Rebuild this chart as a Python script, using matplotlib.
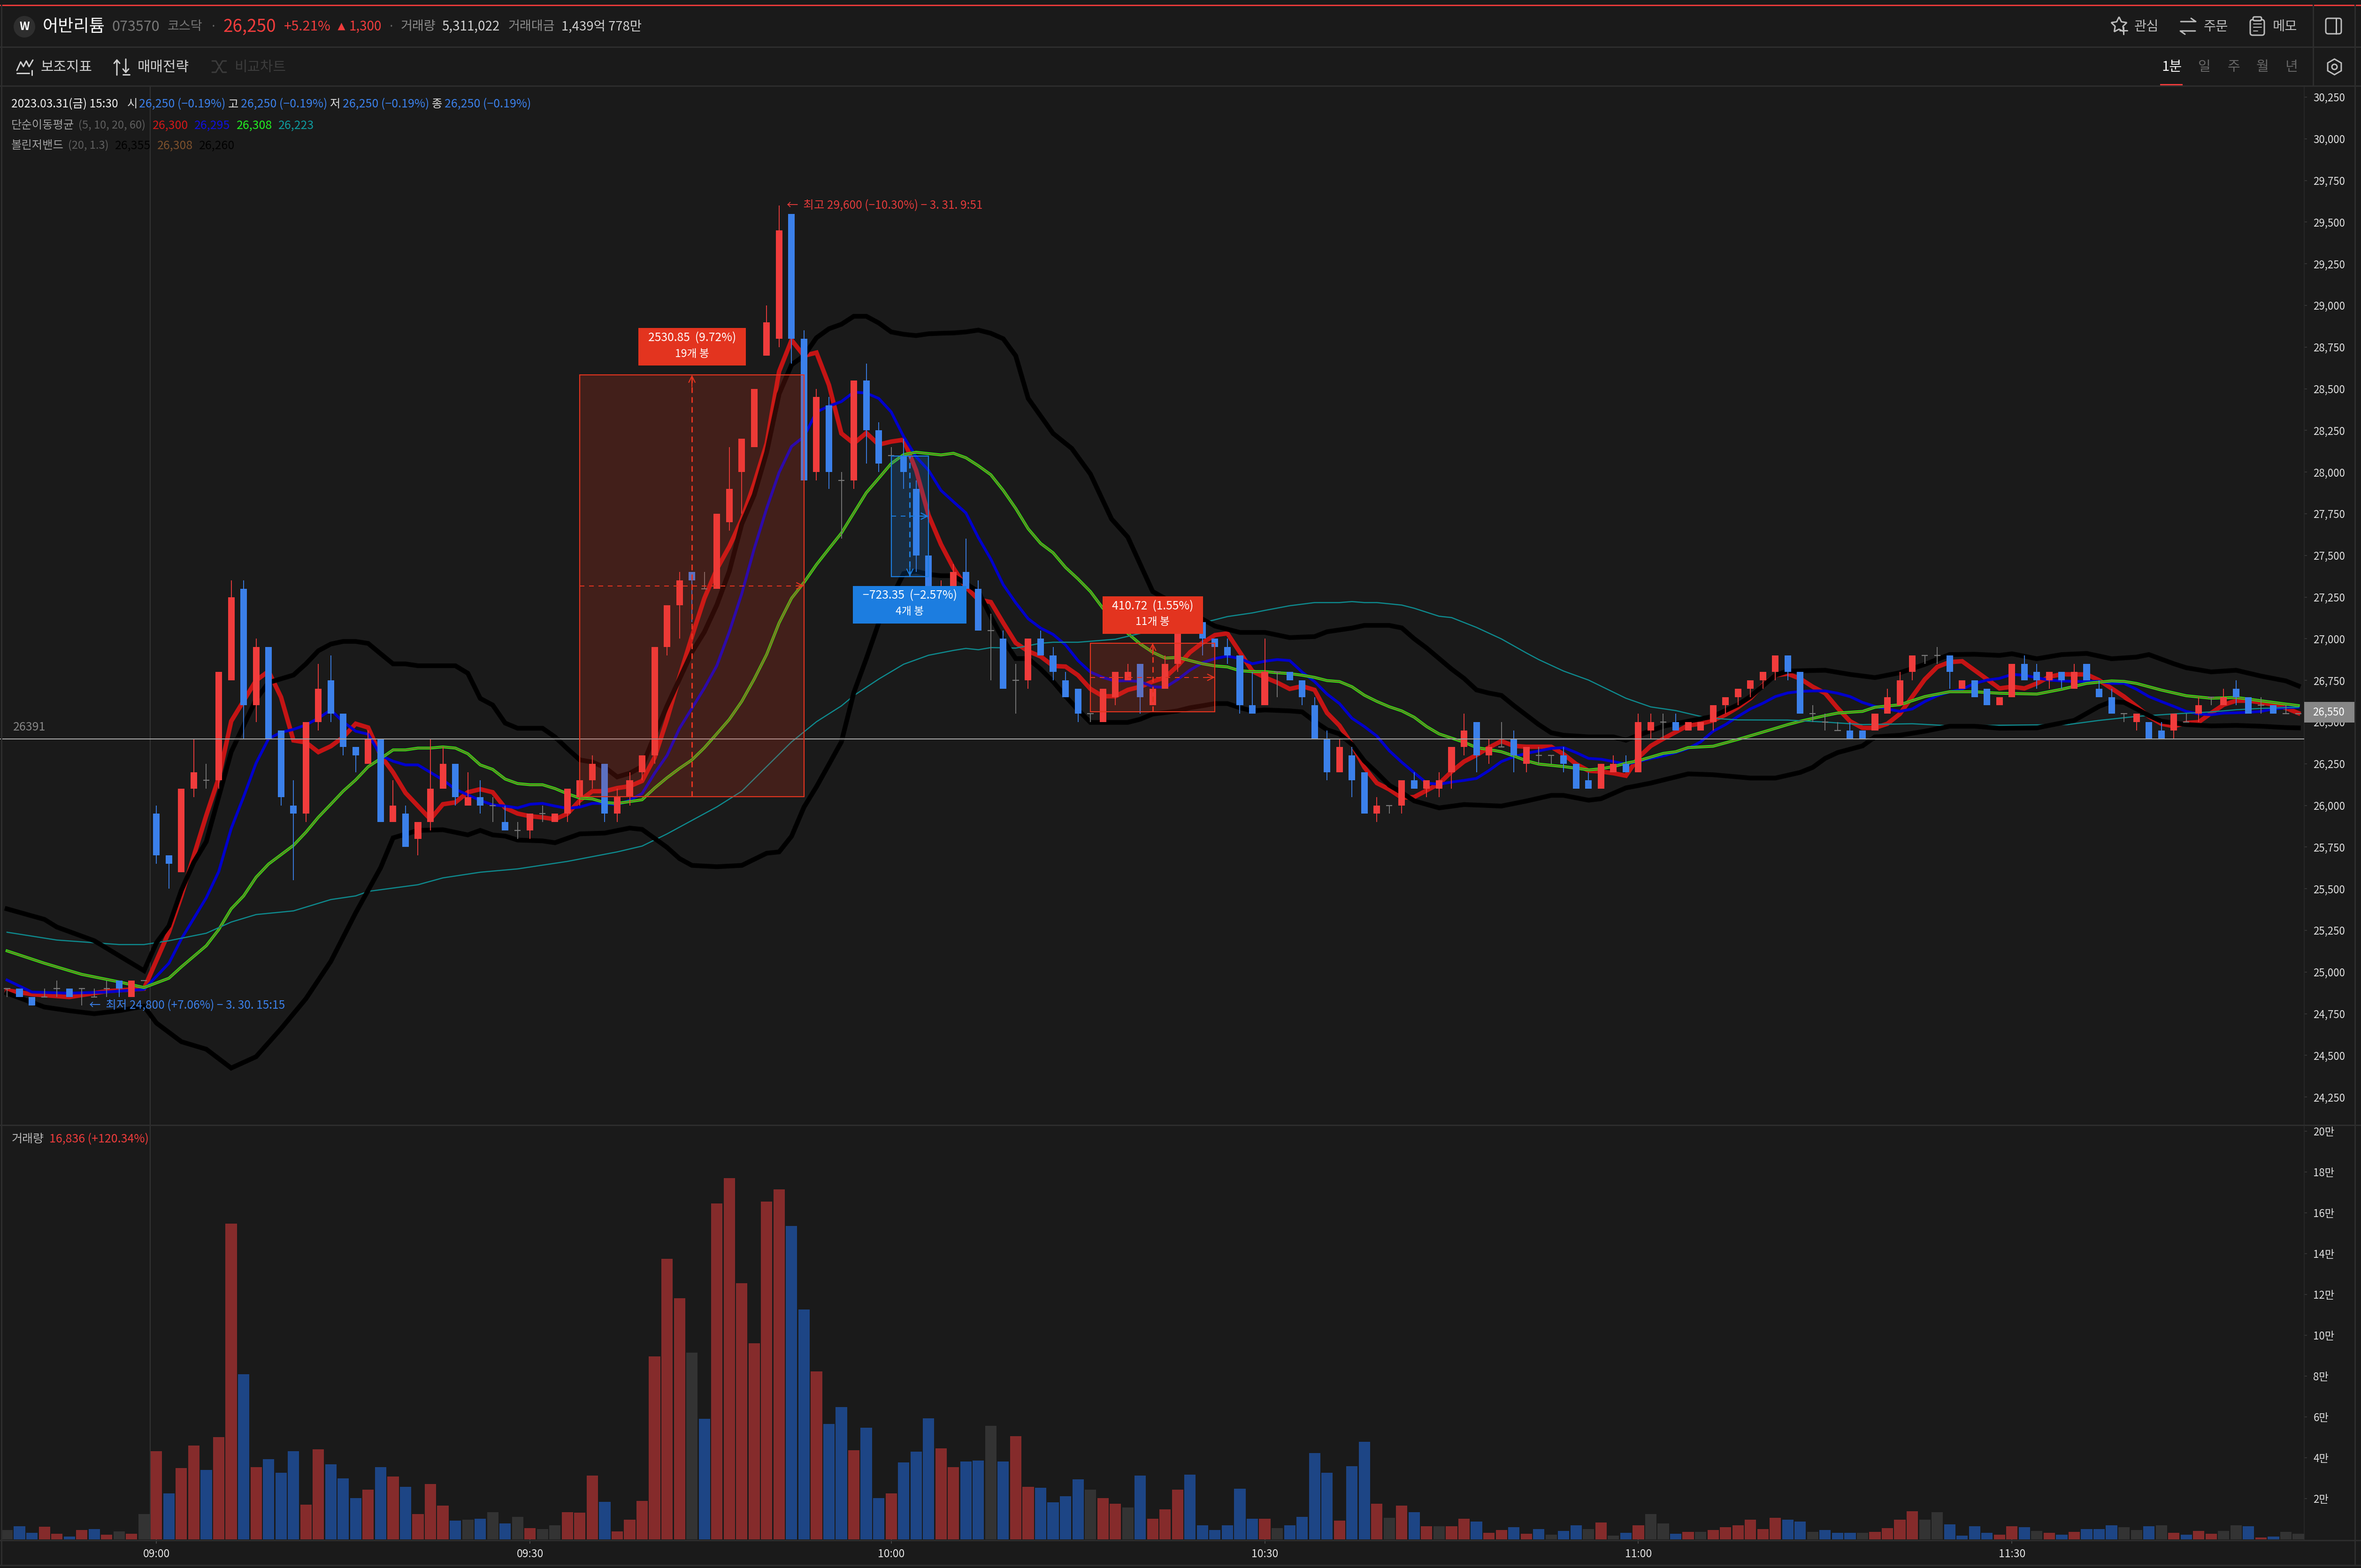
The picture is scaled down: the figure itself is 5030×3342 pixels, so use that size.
import matplotlib

matplotlib.use("Agg")
import matplotlib.pyplot as plt
from matplotlib.patches import Circle, FancyBboxPatch, Rectangle

plt.rcParams["font.family"] = ["Noto Sans CJK KR", "DejaVu Sans"]

# one minute candles, left to right
open_ = [24900, 24900, 24850, 24850, 24900, 24900, 24900, 24850, 24900, 24950,
         24850, 24950, 25950, 25700, 25600, 26100, 26150, 26150, 26750, 27300,
         26600, 26950, 26450, 26000, 25950, 26500, 26750, 26550, 26350, 26250,
         26400, 25900, 25950, 25800, 25900, 26100, 26250, 26000, 26050, 26000,
         25900, 25850, 25850, 25950, 25900, 25950, 26050, 26150, 26250, 25950,
         26050, 26200, 26300, 26950, 27200, 27400, 27300, 27300, 27700, 28000,
         28150, 28700, 28800, 29550, 28800, 28000, 28400, 27950, 27950, 28550,
         28250, 28100, 28100, 27900, 27500, 27250, 27300, 27400, 27300, 27050,
         27000, 26750, 26750, 27000, 26900, 26750, 26700, 26550, 26500, 26650,
         26750, 26850, 26600, 26700, 26850, 27050, 27100, 27000, 26950, 26900,
         26600, 26600, 26800, 26800, 26750, 26600, 26400, 26200, 26300, 26200,
         25950, 26000, 26000, 26150, 26100, 26100, 26200, 26350, 26500, 26300,
         26350, 26400, 26250, 26300, 26300, 26300, 26250, 26150, 26100, 26200,
         26250, 26200, 26450, 26500, 26500, 26450, 26450, 26500, 26600, 26650,
         26700, 26750, 26800, 26900, 26800, 26550, 26500, 26450, 26450, 26450,
         26450, 26550, 26600, 26800, 26900, 26900, 26900, 26700, 26750, 26700,
         26600, 26650, 26850, 26800, 26750, 26800, 26700, 26850, 26700, 26650,
         26550, 26500, 26500, 26450, 26450, 26500, 26550, 26650, 26600, 26700,
         26650, 26600, 26600, 26550, 26550]
high = [24900, 24900, 24850, 24900, 24950, 24900, 24900, 24900, 24950, 24950,
        24950, 24950, 26000, 25700, 26100, 26400, 26250, 26800, 27350, 27350,
        27000, 26950, 26450, 26150, 26500, 26850, 26900, 26550, 26350, 26450,
        26400, 26150, 26000, 25900, 26400, 26350, 26250, 26200, 26150, 26050,
        26000, 25900, 25950, 26000, 25950, 26100, 26150, 26300, 26250, 26100,
        26200, 26300, 26950, 27200, 27400, 27400, 27400, 27750, 28150, 28200,
        28500, 29000, 29600, 29550, 28850, 28500, 28450, 28000, 28550, 28650,
        28300, 28150, 28200, 27950, 27500, 27350, 27450, 27600, 27350, 27150,
        27050, 26850, 27000, 27050, 26950, 26800, 26700, 26550, 26700, 26800,
        26850, 26850, 26700, 26900, 27050, 27100, 27100, 27000, 27000, 26900,
        26800, 27000, 26800, 26800, 26750, 26650, 26450, 26400, 26350, 26200,
        26050, 26000, 26150, 26200, 26150, 26200, 26350, 26550, 26500, 26400,
        26500, 26450, 26350, 26350, 26300, 26350, 26250, 26200, 26250, 26300,
        26300, 26550, 26550, 26550, 26550, 26500, 26500, 26600, 26650, 26700,
        26750, 26800, 26900, 26900, 26800, 26600, 26550, 26500, 26500, 26450,
        26550, 26700, 26800, 26900, 26900, 26950, 26900, 26750, 26750, 26700,
        26650, 26850, 26900, 26850, 26800, 26800, 26850, 26850, 26750, 26700,
        26550, 26550, 26500, 26500, 26550, 26550, 26650, 26650, 26700, 26750,
        26650, 26650, 26600, 26600, 26550]
low = [24850, 24850, 24800, 24850, 24850, 24850, 24800, 24850, 24850, 24850,
       24850, 24950, 25650, 25500, 25600, 26050, 26100, 26100, 26750, 26400,
       26500, 26400, 26000, 25550, 25900, 26450, 26500, 26300, 26200, 26250,
       25900, 25900, 25750, 25700, 25850, 26100, 26000, 26000, 25950, 25900,
       25850, 25800, 25800, 25900, 25900, 25900, 26000, 26100, 25900, 25900,
       26000, 26150, 26250, 26900, 27000, 27100, 27300, 27300, 27650, 27750,
       28150, 28700, 28750, 28650, 27950, 27950, 27900, 27600, 27900, 28050,
       28000, 28000, 27900, 27400, 27300, 27250, 27300, 27300, 27050, 26750,
       26700, 26550, 26700, 26900, 26750, 26650, 26500, 26500, 26500, 26600,
       26750, 26550, 26600, 26700, 26800, 27050, 26900, 26950, 26850, 26550,
       26550, 26600, 26650, 26750, 26600, 26400, 26150, 26200, 26050, 25950,
       25900, 25950, 25950, 26100, 26050, 26050, 26100, 26300, 26200, 26250,
       26350, 26200, 26200, 26250, 26250, 26200, 26100, 26100, 26100, 26200,
       26200, 26200, 26400, 26400, 26450, 26450, 26450, 26450, 26550, 26600,
       26650, 26700, 26750, 26750, 26550, 26500, 26450, 26450, 26400, 26400,
       26450, 26550, 26600, 26750, 26850, 26850, 26700, 26700, 26650, 26600,
       26600, 26650, 26750, 26700, 26700, 26700, 26700, 26750, 26650, 26550,
       26500, 26450, 26400, 26400, 26400, 26500, 26500, 26600, 26600, 26600,
       26550, 26550, 26550, 26550, 26550]
close = [24900, 24850, 24800, 24850, 24900, 24850, 24900, 24850, 24900, 24900,
         24950, 24950, 25700, 25650, 26100, 26200, 26150, 26800, 27250, 26600,
         26950, 26400, 26050, 25950, 26500, 26700, 26550, 26350, 26300, 26400,
         25900, 26000, 25750, 25900, 26100, 26250, 26050, 26050, 26000, 26000,
         25850, 25850, 25950, 25950, 25950, 26100, 26150, 26250, 25950, 26050,
         26150, 26300, 26950, 27200, 27350, 27350, 27300, 27750, 27900, 28200,
         28500, 28900, 29450, 28800, 27950, 28450, 28000, 27950, 28550, 28250,
         28050, 28100, 28000, 27500, 27300, 27300, 27400, 27300, 27050, 27050,
         26700, 26750, 27000, 26900, 26800, 26650, 26550, 26550, 26700, 26800,
         26800, 26650, 26700, 26850, 27050, 27100, 27000, 26950, 26900, 26600,
         26550, 26800, 26800, 26750, 26650, 26400, 26200, 26350, 26150, 25950,
         26000, 26000, 26150, 26100, 26150, 26150, 26350, 26450, 26300, 26350,
         26350, 26300, 26350, 26300, 26300, 26250, 26100, 26100, 26250, 26250,
         26200, 26500, 26500, 26500, 26450, 26500, 26500, 26600, 26650, 26700,
         26750, 26800, 26900, 26800, 26550, 26550, 26500, 26450, 26400, 26400,
         26550, 26650, 26750, 26900, 26900, 26900, 26800, 26750, 26650, 26600,
         26650, 26850, 26750, 26750, 26800, 26750, 26800, 26750, 26650, 26550,
         26550, 26550, 26400, 26400, 26550, 26500, 26600, 26650, 26650, 26650,
         26550, 26600, 26550, 26550, 26550]

# volume in units of 10,000 shares (만)
volume = [0.47, 0.65, 0.32, 0.61, 0.28, 0.14, 0.47, 0.51, 0.24, 0.38,
          0.28, 1.24, 4.33, 2.26, 3.50, 4.60, 3.41, 5.02, 15.46, 8.10,
          3.54, 3.92, 3.27, 4.33, 1.71, 4.41, 3.68, 2.99, 2.03, 2.44,
          3.54, 3.09, 2.58, 1.24, 2.72, 1.66, 0.93, 0.97, 1.02, 1.34,
          0.79, 1.11, 0.56, 0.51, 0.69, 1.34, 1.30, 3.13, 1.85, 0.38,
          0.97, 1.89, 8.97, 13.75, 11.82, 9.15, 5.90, 16.46, 17.70, 12.55,
          9.62, 16.56, 17.15, 15.36, 11.27, 8.24, 5.66, 6.49, 4.37, 5.47,
          2.03, 2.26, 3.78, 4.29, 5.94, 4.47, 3.54, 3.82, 3.86, 5.57,
          3.82, 5.06, 2.58, 2.54, 1.81, 2.12, 2.95, 2.44, 2.03, 1.75,
          1.57, 3.13, 1.02, 1.48, 2.44, 3.17, 0.69, 0.47, 0.69, 2.48,
          1.01, 1.01, 0.55, 0.69, 1.10, 4.23, 3.26, 0.92, 3.59, 4.78,
          1.75, 1.06, 1.66, 1.33, 0.64, 0.64, 0.64, 1.01, 0.87, 0.32,
          0.46, 0.60, 0.28, 0.51, 0.23, 0.41, 0.69, 0.51, 0.83, 0.18,
          0.32, 0.69, 1.24, 0.78, 0.28, 0.37, 0.37, 0.46, 0.60, 0.69,
          0.97, 0.51, 1.06, 0.97, 0.87, 0.37, 0.46, 0.32, 0.32, 0.32,
          0.37, 0.55, 0.97, 1.38, 0.97, 1.33, 0.74, 0.18, 0.64, 0.32,
          0.23, 0.64, 0.60, 0.41, 0.32, 0.23, 0.37, 0.51, 0.51, 0.69,
          0.60, 0.46, 0.64, 0.69, 0.32, 0.23, 0.41, 0.28, 0.41, 0.69,
          0.64, 0.09, 0.14, 0.37, 0.28]
volume_dir = list(
    "gbbrrbrbrg" "rgrbrrbrrb" "rbbbrrbbbr" "brbrrrbgbg" "bgrggrrrbr"
    "rrrrrgbrrr" "rrrbbrbbrb" "brbbbrrbbg" "brrbbbbgrr" "gbrrrbbbbb"
    "brgbbbbrbb" "rgrbrgrrbr" "rbrbgbbgrg" "brggbrgrrr" "rrrbbgbbbg"
    "rrrrggbbbb" "rrbgrbrbbb" "ggbgrbrrgg" "brbgg"
)

ma5_x = [0, 2, 5, 8, 11, 13, 14, 16, 17, 18, 20] + list(range(21, 185))
ma5 = [24890, 24867, 24850, 24885, 24900, 25240, 25457, 25940, 26165, 26505, 26750,
       26805, 26650, 26390, 26378, 26320, 26355, 26410, 26490, 26467, 26300,
       26198, 26075, 25996, 25917, 26007, 26018, 26079, 26097, 26079, 25985,
       25951, 25935, 25928, 25917, 25950, 26030, 26085, 26085, 26104, 26115,
       26147, 26287, 26516, 26772, 27014, 27243, 27418, 27553, 27715, 27930,
       28172, 28604, 28792, 28698, 28717, 28523, 28232, 28172, 28235, 28165,
       28183, 28194, 28011, 27742, 27566, 27424, 27310, 27235, 27220, 27095,
       26975, 26925, 26894, 26837, 26833, 26781, 26699, 26655, 26655, 26693,
       26712, 26743, 26768, 26837, 26919, 26976, 27022, 27032, 26919, 26806,
       26768, 26737, 26699, 26715, 26693, 26555, 26479, 26366, 26228, 26134,
       26096, 26046, 26050, 26090, 26130, 26203, 26263, 26302, 26347, 26386,
       26357, 26352, 26352, 26352, 26307, 26248, 26208, 26203, 26193, 26178,
       26287, 26357, 26400, 26440, 26480, 26490, 26510, 26544, 26589, 26643,
       26722, 26781, 26790, 26760, 26712, 26673, 26584, 26505, 26465, 26465,
       26490, 26549, 26653, 26756, 26831, 26860, 26865, 26811, 26757, 26702,
       26712, 26702, 26732, 26772, 26787, 26786, 26786, 26751, 26702, 26653,
       26594, 26534, 26490, 26475, 26495, 26500, 26554, 26604, 26628, 26628,
       26618, 26604, 26584, 26554]
ma10_x = [0, 2, 5, 8, 11, 13, 14, 16, 17, 18] + list(range(19, 185))
ma10 = [24952, 24880, 24873, 24880, 24896, 25053, 25199, 25446, 25603, 25861,
        26052, 26254, 26400, 26438, 26456, 26483, 26523, 26573, 26501, 26445,
        26427, 26300, 26265, 26243, 26243, 26198, 26153, 26097, 26063, 26030,
        26003, 25996, 25985, 26007, 26012, 25996, 25982, 25990, 26012, 26012,
        26004, 26031, 26071, 26193, 26300, 26462, 26583, 26704, 26839, 27041,
        27270, 27540, 27782, 27998, 28154, 28213, 28361, 28396, 28423, 28480,
        28474, 28442, 28361, 28213, 28092, 28011, 27890, 27822, 27755, 27607,
        27478, 27324, 27216, 27120, 27064, 27026, 26963, 26869, 26800, 26768,
        26746, 26749, 26743, 26712, 26708, 26755, 26812, 26856, 26881, 26896,
        26881, 26850, 26865, 26875, 26869, 26800, 26743, 26668, 26611, 26523,
        26473, 26416, 26328, 26259, 26196, 26134, 26127, 26140, 26150, 26162,
        26209, 26263, 26292, 26312, 26327, 26342, 26347, 26317, 26282, 26277,
        26263, 26248, 26263, 26282, 26297, 26317, 26342, 26381, 26445, 26485,
        26534, 26579, 26613, 26653, 26675, 26684, 26687, 26687, 26673, 26653,
        26618, 26594, 26579, 26564, 26579, 26623, 26658, 26682, 26697, 26732,
        26752, 26762, 26786, 26781, 26766, 26752, 26747, 26744, 26744, 26744,
        26732, 26732, 26697, 26653, 26623, 26594, 26564, 26549, 26544, 26554,
        26556, 26559, 26564, 26579, 26586, 26589]
ma20_x = [0, 3, 6, 9, 11, 13, 14, 16, 17, 18, 19, 20, 21, 22, 23, 24, 25, 26, 27, 28,
          29, 30, 31, 32, 33, 34, 35, 36, 37, 38, 39, 40, 41, 42, 43, 44, 45, 46, 47,
          48, 49, 50, 51, 52, 53, 54, 55, 56, 57, 58, 59, 60, 61, 62, 63, 64, 65, 66,
          67, 68, 69, 70, 71, 72, 73, 74, 75, 76, 77, 78, 79, 80, 81, 82, 83, 84, 85,
          86, 87, 88, 90, 91, 92, 93, 94, 95, 96, 97, 98, 99, 100, 101, 102, 103, 104,
          105, 106, 107, 108, 109, 110, 111, 112, 113, 114, 115, 117, 118, 119, 120,
          121, 122, 123, 125, 127, 128, 129, 130, 131, 133, 134, 135, 137, 139, 141,
          143, 144, 146, 147, 149, 150, 152, 154, 156, 158, 160, 163, 165, 167, 169,
          170, 171, 173, 175, 177, 179, 181, 183, 184]
ma20 = [25127, 25053, 24986, 24941, 24907, 24963, 25031, 25158, 25255, 25379, 25457,
        25569, 25648, 25704, 25760, 25839, 25929, 26007, 26086, 26153, 26232, 26281,
        26333, 26333, 26344, 26344, 26351, 26344, 26310, 26243, 26216, 26158, 26131,
        26124, 26124, 26101, 26070, 26044, 26039, 26017, 26012, 26023, 26034, 26104,
        26166, 26222, 26273, 26346, 26430, 26516, 26624, 26758, 26906, 27095, 27243,
        27338, 27445, 27540, 27634, 27755, 27876, 27963, 28051, 28105, 28119, 28111,
        28103, 28113, 28086, 28038, 27984, 27890, 27782, 27660, 27572, 27516, 27428,
        27359, 27283, 27183, 27032, 26969, 26919, 26884, 26888, 26869, 26850, 26837,
        26831, 26808, 26803, 26803, 26796, 26791, 26781, 26768, 26749, 26743, 26712,
        26661, 26624, 26592, 26567, 26529, 26473, 26429, 26379, 26347, 26335, 26322,
        26297, 26268, 26248, 26233, 26213, 26220, 26233, 26253, 26268, 26312, 26322,
        26347, 26355, 26396, 26440, 26485, 26505, 26539, 26554, 26564, 26589, 26604,
        26653, 26682, 26682, 26673, 26668, 26697, 26732, 26747, 26744, 26732, 26692,
        26658, 26643, 26648, 26628, 26608, 26599]
ma60_x = [0, 4, 7, 9, 11, 13, 16, 18, 20, 23, 26, 28, 29, 33, 35, 38, 41, 45, 49, 51,
          53, 55, 57, 59, 61, 63, 65, 67, 68, 70, 72, 74, 76, 77, 78, 79, 81, 83, 84,
          86, 89, 91, 96, 98, 100, 101, 103, 105, 107, 108, 109, 110, 112, 113, 115,
          116, 118, 120, 122, 123, 125, 127, 130, 132, 134, 136, 137.5, 139, 143, 146,
          149, 153, 156, 165.5, 168, 171, 174, 177, 179, 181, 184]
ma60 = [25239, 25192, 25176, 25165, 25165, 25188, 25233, 25300, 25345, 25367, 25435,
        25457, 25484, 25524, 25565, 25599, 25619, 25664, 25721, 25756, 25829, 25910,
        25991, 26085, 26233, 26381, 26502, 26597, 26659, 26758, 26847, 26901, 26930,
        26942, 26934, 26947, 26944, 26973, 26979, 26979, 26997, 27032, 27095, 27133,
        27155, 27170, 27198, 27217, 27217, 27223, 27217, 27217, 27202, 27183, 27135,
        27127, 27068, 26999, 26915, 26875, 26806, 26752, 26643, 26591, 26569, 26534,
        26520, 26513, 26512, 26500, 26485, 26490, 26478, 26485, 26510, 26534, 26549,
        26561, 26574, 26582, 26589]
bb_upper_x = [0, 3, 4, 7, 9, 11, 12, 13, 14, 15, 16, 17, 18, 19, 20, 21, 23, 24, 25, 26,
              27, 28, 29, 30, 31, 32, 33, 34, 35, 36, 37, 38, 39, 40, 41, 42, 43, 44, 45,
              46, 47, 48, 49, 50, 51, 52, 53, 54, 55, 56, 57, 58, 59, 60, 61, 62, 63, 64,
              65, 66, 67, 68, 69, 70, 71, 72, 73, 74, 75, 76, 77, 78, 79, 80, 81, 82, 84,
              85.5, 87, 88.7, 90, 92, 97, 99, 101, 103, 105, 106, 108, 109, 111, 112, 113,
              114, 115, 116, 117, 118, 119, 120, 121, 123, 124, 125, 127, 129, 130, 131,
              133, 135, 137, 139, 140, 142, 143, 146, 148, 150, 152, 154, 156, 158, 160,
              161, 163, 165, 167, 169, 171, 172, 174, 175, 177, 179, 181, 183, 184]
bb_upper = [25379, 25316, 25270, 25188, 25098, 25008, 25176, 25277, 25491, 25659, 25783,
            26052, 26321, 26479, 26636, 26737, 26782, 26849, 26928, 26968, 26984, 26984,
            26972, 26910, 26849, 26849, 26838, 26838, 26838, 26838, 26793, 26642, 26602,
            26494, 26463, 26463, 26463, 26411, 26340, 26273, 26260, 26228, 26171, 26193,
            26233, 26421, 26597, 26758, 26920, 27041, 27203, 27405, 27688, 27863, 28119,
            28469, 28644, 28698, 28806, 28860, 28887, 28935, 28935, 28895, 28841, 28827,
            28819, 28830, 28833, 28835, 28841, 28852, 28833, 28800, 28698, 28442, 28232,
            28142, 27988, 27718, 27610, 27283, 27076, 27038, 27038, 27007, 27013, 27042,
            27064, 27080, 27080, 27065, 27000, 26944, 26881, 26818, 26762, 26693, 26674,
            26660, 26599, 26485, 26436, 26421, 26411, 26411, 26391, 26421, 26475, 26505,
            26534, 26604, 26653, 26781, 26806, 26811, 26786, 26767, 26796, 26846, 26905,
            26907, 26900, 26910, 26880, 26905, 26912, 26880, 26890, 26905, 26850, 26826,
            26801, 26811, 26776, 26747, 26717]
bb_lower_x = [0, 3, 5, 7, 9, 11, 12, 13, 14, 16, 18, 20, 22, 24, 26, 28, 30, 31, 33, 35,
              37, 38, 39, 40, 41, 43, 44, 46, 48, 50, 51, 53, 54, 55, 57, 59, 61, 62, 63,
              64, 65, 66, 67, 68, 69, 70, 72, 73, 74, 75, 76, 78, 79, 80, 81, 82, 83, 84,
              85, 86, 87, 88, 89, 90, 91, 92, 93, 94, 95, 96, 97, 98, 99, 100, 101, 103,
              104, 105, 106, 107, 108, 109, 110, 111, 112, 113, 115, 117, 120, 122, 124,
              125, 127, 128, 130, 131, 132, 135, 137, 140, 142, 144, 145, 146, 147, 149,
              150, 152, 154, 156, 158, 160, 163, 165, 166, 168, 169, 170, 171, 172, 173,
              174, 175, 177, 179, 181, 183, 184]
bb_lower = [24873, 24790, 24768, 24750, 24768, 24795, 24694, 24638, 24582, 24537, 24424,
            24492, 24660, 24840, 25064, 25356, 25626, 25805, 25850, 25854, 25823, 25850,
            25823, 25816, 25792, 25787, 25776, 25829, 25834, 25864, 25856, 25748, 25681,
            25640, 25632, 25640, 25713, 25721, 25815, 25990, 26112, 26246, 26381, 26677,
            26880, 27095, 27391, 27405, 27386, 27378, 27378, 27283, 27133, 26994, 26881,
            26881, 26818, 26743, 26655, 26573, 26498, 26498, 26498, 26498, 26517, 26548,
            26557, 26567, 26586, 26598, 26611, 26611, 26586, 26567, 26573, 26567, 26561,
            26504, 26454, 26429, 26366, 26266, 26196, 26121, 26077, 26027, 25985, 26005,
            25996, 26026, 26060, 26060, 26031, 26040, 26105, 26119, 26134, 26189, 26184,
            26164, 26164, 26198, 26228, 26282, 26317, 26357, 26411, 26421, 26445, 26475,
            26475, 26463, 26465, 26495, 26510, 26594, 26623, 26618, 26579, 26539, 26505,
            26495, 26485, 26477, 26480, 26475, 26467, 26465]

price_ticks = list(range(24250, 30500, 250))
volume_ticks = list(range(2, 22, 2))
time_tick_bars = [12, 42, 71, 101, 131, 161]
time_tick_labels = ["09:00", "09:30", "10:00", "10:30", "11:00", "11:30"]

# measuring boxes drawn on the chart
measure_start = [46, 71, 87]
measure_end = [64, 74, 97]
measure_low = [26052, 27374, 26563]
measure_high = [28583, 28097, 26974]
measure_value = ["2530.85  (9.72%)", "\u2212723.35  (\u22122.57%)", "410.72  (1.55%)"]
measure_bars = ["19개 봉", "4개 봉", "11개 봉"]

cross_price = 26400
cross_label = "26391"
cross_bar = 11.5
last_price = 26550

BG = "#1a1a1a"
LINE = "#2d2d2d"
RED = "#f03c3c"
BLUE = "#3b80ea"
DOJI = "#7a7a7a"
VOL_COLORS = {"r": "#852b2b", "b": "#1d4585", "g": "#333333"}
MEASURE_UP = "#e3341f"
MEASURE_DOWN = "#1c7de0"

W, H = 5030, 3342
PITCH = 26.53  # px per bar
FIRST_BAR = 15  # px of bar 0
AXIS_X = 4909
PX_PER_WON = 0.3552


def px(v):
    return v * 0.72


def panel(left, top, right, bottom):
    return fig.add_axes([left / W, 1 - bottom / H, (right - left) / W, (bottom - top) / H])


def style_panel(ax):
    ax.set_facecolor(BG)
    ax.set_xlim(-FIRST_BAR / PITCH, (AXIS_X - FIRST_BAR) / PITCH)
    for side in ["top", "left", "bottom"]:
        ax.spines[side].set_visible(False)
    ax.spines["right"].set_color("#262626")
    ax.spines["right"].set_linewidth(px(2))
    ax.yaxis.tick_right()
    ax.tick_params(axis="y", length=4, width=px(2), color="#333333", labelcolor="#e0e0e0",
                   labelsize=16, pad=10)
    ax.axvline(cross_bar, color="#333333", lw=px(2), zorder=1)


fig = plt.figure(figsize=(W / 100, H / 100), dpi=100, facecolor=BG)

# price panel
ax = panel(0, 183, AXIS_X, 2398)
style_panel(ax)
ax.set_ylim(30250 - (2398 - 207) / PX_PER_WON, 30250 + (207 - 183) / PX_PER_WON)
ax.set_xticks([])
ax.set_yticks(price_ticks)
ax.set_yticklabels([f"{t:,}" for t in price_ticks])

ax.plot(ma5_x, ma5, color="#c41414", lw=px(9.5), zorder=2, solid_joinstyle="miter")
ax.plot(ma10_x, ma10, color="#0000cc", lw=px(6), zorder=2.1)
ax.plot(ma20_x, ma20, color="#33e012", lw=px(6), zorder=2.2)
ax.plot(ma60_x, ma60, color="#0e8a8e", lw=px(2.5), zorder=2.3)
ax.plot(bb_upper_x, bb_upper, color="#000000", lw=px(10), zorder=2.4, solid_joinstyle="miter")
ax.plot(bb_lower_x, bb_lower, color="#000000", lw=px(10), zorder=2.4, solid_joinstyle="miter")
ax.plot(ma20_x, ma20, color="#75562c", lw=px(2), zorder=2.5)

for i, (o, h, l, c) in enumerate(zip(open_, high, low, close)):
    color = RED if c > o else BLUE if c < o else DOJI
    ax.vlines(i, l, h, color=color, lw=px(1.8), zorder=3)
    if c == o:
        ax.hlines(c, i - 0.25, i + 0.25, color=DOJI, lw=px(2.2), zorder=3)
    else:
        ax.bar(i, abs(c - o), bottom=min(o, c), width=0.53, color=color, zorder=3.1)

ax.axhline(cross_price, color="#a8a8a8", lw=px(2), zorder=4)
ax.text(0.5, cross_price + 70, cross_label, color="#858585", fontsize=18,
        va="center", zorder=4)

ax.text(62.6, 29600, "\u2190  최고 29,600 (\u221210.30%) \u2212 3. 31. 9:51", color="#e23b3b",
        fontsize=17.6, va="center", zorder=6)
ax.text(6.6, 24800, "\u2190  최저 24,800 (+7.06%) \u2212 3. 30. 15:15", color="#3b80ea",
        fontsize=17.6, va="center", zorder=6)

for start, end, lo, hi, value, bars in zip(measure_start, measure_end, measure_low,
                                           measure_high, measure_value, measure_bars):
    up = not value.startswith("\u2212")
    color = MEASURE_UP if up else MEASURE_DOWN
    mid_x = (start + end) / 2
    mid_y = (lo + hi) / 2
    ax.add_patch(Rectangle((start, lo), end - start, hi - lo, facecolor=color, alpha=0.2,
                           edgecolor="none", zorder=5))
    ax.add_patch(Rectangle((start, lo), end - start, hi - lo, fill=False, edgecolor=color,
                           lw=px(2.2), zorder=5.1))
    ax.plot([mid_x, mid_x], [lo, hi], color=color, lw=px(3), ls=(0, (4, 3)), zorder=5.1)
    ax.plot([start, end], [mid_y, mid_y], color=color, lw=px(2), ls=(0, (5, 5)), zorder=5.1)
    tip = hi if up else lo
    base = tip + (-70 if up else 70)
    ax.annotate("", xy=(mid_x, tip), xytext=(mid_x, base), zorder=5.2,
                arrowprops=dict(arrowstyle="->", color=color, lw=px(2.2), mutation_scale=24,
                                shrinkA=0, shrinkB=0))
    ax.annotate("", xy=(end, mid_y), xytext=(end - 0.6, mid_y), zorder=5.2,
                arrowprops=dict(arrowstyle="->", color=color, lw=px(2.2), mutation_scale=24,
                                shrinkA=0, shrinkB=0))
    half = {True: 4.32 if end - start > 12 else 4.03, False: 4.56}[up]
    gap = 20 / PX_PER_WON
    box_h = 80 / PX_PER_WON
    box_lo = hi + gap if up else lo - gap - box_h
    ax.add_patch(Rectangle((mid_x - half, box_lo), 2 * half, box_h, facecolor=color,
                           edgecolor="none", zorder=6))
    ax.text(mid_x, box_lo + box_h / 2 + 19 / PX_PER_WON, value, color="white", fontsize=17.8,
            ha="center", va="center", zorder=7)
    ax.text(mid_x, box_lo + box_h / 2 - 15 / PX_PER_WON, bars, color="white", fontsize=16.5,
            ha="center", va="center", zorder=7)

# volume panel
vax = panel(0, 2398, AXIS_X, 3281)
style_panel(vax)
vax.set_ylim(0, (3281 - 2398) / 43.5)
vax.bar(range(len(volume)), volume, width=0.91, color=[VOL_COLORS[d] for d in volume_dir],
        zorder=3)
vax.set_yticks(volume_ticks)
vax.set_yticklabels([f"{t}만" for t in volume_ticks])
vax.set_xticks(time_tick_bars)
vax.set_xticklabels(time_tick_labels)
vax.tick_params(axis="x", length=6.5, width=px(2), color="#444444", labelcolor="#e6e6e6",
                labelsize=16.5, pad=8)

# page chrome, in pixels
ui = fig.add_axes([0, 0, 1, 1], zorder=10)
ui.set_xlim(0, W)
ui.set_ylim(H, 0)
ui.axis("off")


def label(x, y, text, color, size, **kwargs):
    kwargs.setdefault("va", "center")
    ui.text(x, y, text, color=color, fontsize=size, **kwargs)


def stroke(xs, ys, color="#bdbdbd", width=3):
    ui.plot(xs, ys, color=color, lw=px(width), solid_capstyle="round")


for y in [100, 183, 2398, 3283, 3336]:
    ui.plot([0, W], [y, y], color=LINE, lw=px(3))
ui.plot([0, W], [11, 11], color="#e83a3a", lw=px(3))
for x, y0, y1 in [(3, 11, 3336), (5017, 11, 3336), (4928, 11, 183)]:
    ui.plot([x, x], [y0, y1], color=LINE, lw=px(3))

# top bar
ui.add_patch(Circle((52, 57), 23, facecolor="#2e2e2e", edgecolor="none"))
label(52, 57, "W", "white", 17, ha="center", fontweight="bold")
label(91, 57, "어반리튬", "white", 26, fontweight="medium")
label(239, 57, "073570", "#777777", 22)
label(357, 57, "코스닥", "#777777", 19.5)
label(455, 57, "·", "#666666", 18, ha="center")
label(476, 57, "26,250", RED, 26.5, fontweight="medium")
label(605, 57, "+5.21%", RED, 21)
ui.plot([727], [56], marker="^", ms=11, color=RED, mec="none")
label(743, 57, "1,300", RED, 20)
label(834, 57, "·", "#666666", 18, ha="center")
label(854, 57, "거래량", "#8a8a8a", 19.5)
label(941, 57, "5,311,022", "#d0d0d0", 20)
label(1083, 57, "거래대금", "#8a8a8a", 19.5)
label(1196, 57, "1,439억 778만", "#d0d0d0", 19.8)

ui.plot([4514], [53], marker=(5, 1), ms=25, mfc="none", mec="#bdbdbd", mew=px(3))
stroke([4524, 4524], [58, 73])
stroke([4516, 4532], [65, 65])
label(4547, 57, "관심", "#bdbdbd", 20.5)
stroke([4646, 4678, 4668], [46, 46, 39])
stroke([4677, 4645, 4655], [66, 66, 73])
label(4695, 57, "주문", "#bdbdbd", 20.5)
ui.add_patch(FancyBboxPatch((4794, 42), 30, 33, boxstyle="round,pad=0,rounding_size=5",
                            fill=False, edgecolor="#bdbdbd", lw=px(3)))
ui.add_patch(FancyBboxPatch((4800, 36), 18, 8, boxstyle="round,pad=0,rounding_size=3",
                            facecolor=BG, edgecolor="#bdbdbd", lw=px(3)))
for y, end in [(51, 4818), (58, 4818), (66, 4810)]:
    stroke([4801, end], [y, y], width=2)
label(4842, 57, "메모", "#bdbdbd", 20.5)
ui.add_patch(FancyBboxPatch((4955, 39), 33, 33, boxstyle="round,pad=0,rounding_size=5",
                            fill=False, edgecolor="#bdbdbd", lw=px(3)))
stroke([4977, 4977], [39, 72])

# tool bar
stroke([36, 44, 50, 56, 62, 70], [150, 132, 142, 130, 142, 128], "#cfcfcf")
stroke([36, 62], [156, 156], "#cfcfcf")
stroke([68, 68], [150, 160], "#cfcfcf")
label(86, 143, "보조지표", "#cfcfcf", 21.5)
stroke([249, 249, 243], [160, 128, 135], "#cfcfcf")
stroke([249, 255], [128, 135], "#cfcfcf")
stroke([268, 268, 262], [126, 154, 147], "#cfcfcf")
stroke([268, 274], [154, 147], "#cfcfcf")
stroke([262, 276], [159, 159], "#cfcfcf")
label(293, 143, "매매전략", "#cfcfcf", 21.5)
stroke([452, 460, 474, 482], [130, 130, 154, 154], "#3c3c3c")
stroke([452, 460, 474, 482], [154, 154, 130, 130], "#3c3c3c")
label(500, 143, "비교차트", "#3c3c3c", 21.5)

label(4627, 143, "1분", "white", 21, ha="center", fontweight="medium")
for x, text in [(4696, "일"), (4759, "주"), (4820, "월"), (4882, "년")]:
    label(x, 143, text, "#666666", 21, ha="center")
ui.add_patch(Rectangle((4602, 179), 48, 4, facecolor="#e83a3a", edgecolor="none"))
ui.plot([4973], [142], marker="h", ms=24, mfc="none", mec="#bdbdbd", mew=px(3))
ui.plot([4973], [142], marker="o", ms=8, mfc="none", mec="#bdbdbd", mew=px(3))

# legend rows
label(24, 222, "2023.03.31(금) 15:30", "#f2f2f2", 17.6)
for x, name, vx in [(271, "시", 296), (486, "고", 513), (703, "저", 730), (920, "종", 947)]:
    label(x, 222, name, "#d8d8d8", 17.5)
    label(vx, 222, "26,250 (\u22120.19%)", BLUE, 18)
label(24, 267, "단순이동평균", "#a0a0a0", 17.5)
label(167, 267, "(5, 10, 20, 60)", "#5f5f5f", 17)
label(325, 267, "26,300", "#d01818", 18)
label(414, 267, "26,295", "#1010dd", 18)
label(504, 267, "26,308", "#22ee22", 18)
label(593, 267, "26,223", "#0e9a9e", 18)
label(24, 310, "볼린저밴드", "#a0a0a0", 17.5)
label(145, 310, "(20, 1.3)", "#5f5f5f", 17)
label(245, 310, "26,355", "#000000", 18)
label(335, 310, "26,308", "#7c502c", 18)
label(424, 310, "26,260", "#000000", 18)

label(25, 2428, "거래량", "#b8b8b8", 18)
label(105, 2428, "16,836 (+120.34%)", RED, 18)

# last price tag on the axis
tag_y = 207 + (30250 - last_price) * PX_PER_WON
ui.add_patch(Rectangle((AXIS_X, tag_y - 25), 5017 - AXIS_X, 44, facecolor="#868686", edgecolor="none"))
label(4961, tag_y - 3, f"{last_price:,}", "white", 16, ha="center")

fig.savefig("out.png", dpi=100, facecolor=BG)
